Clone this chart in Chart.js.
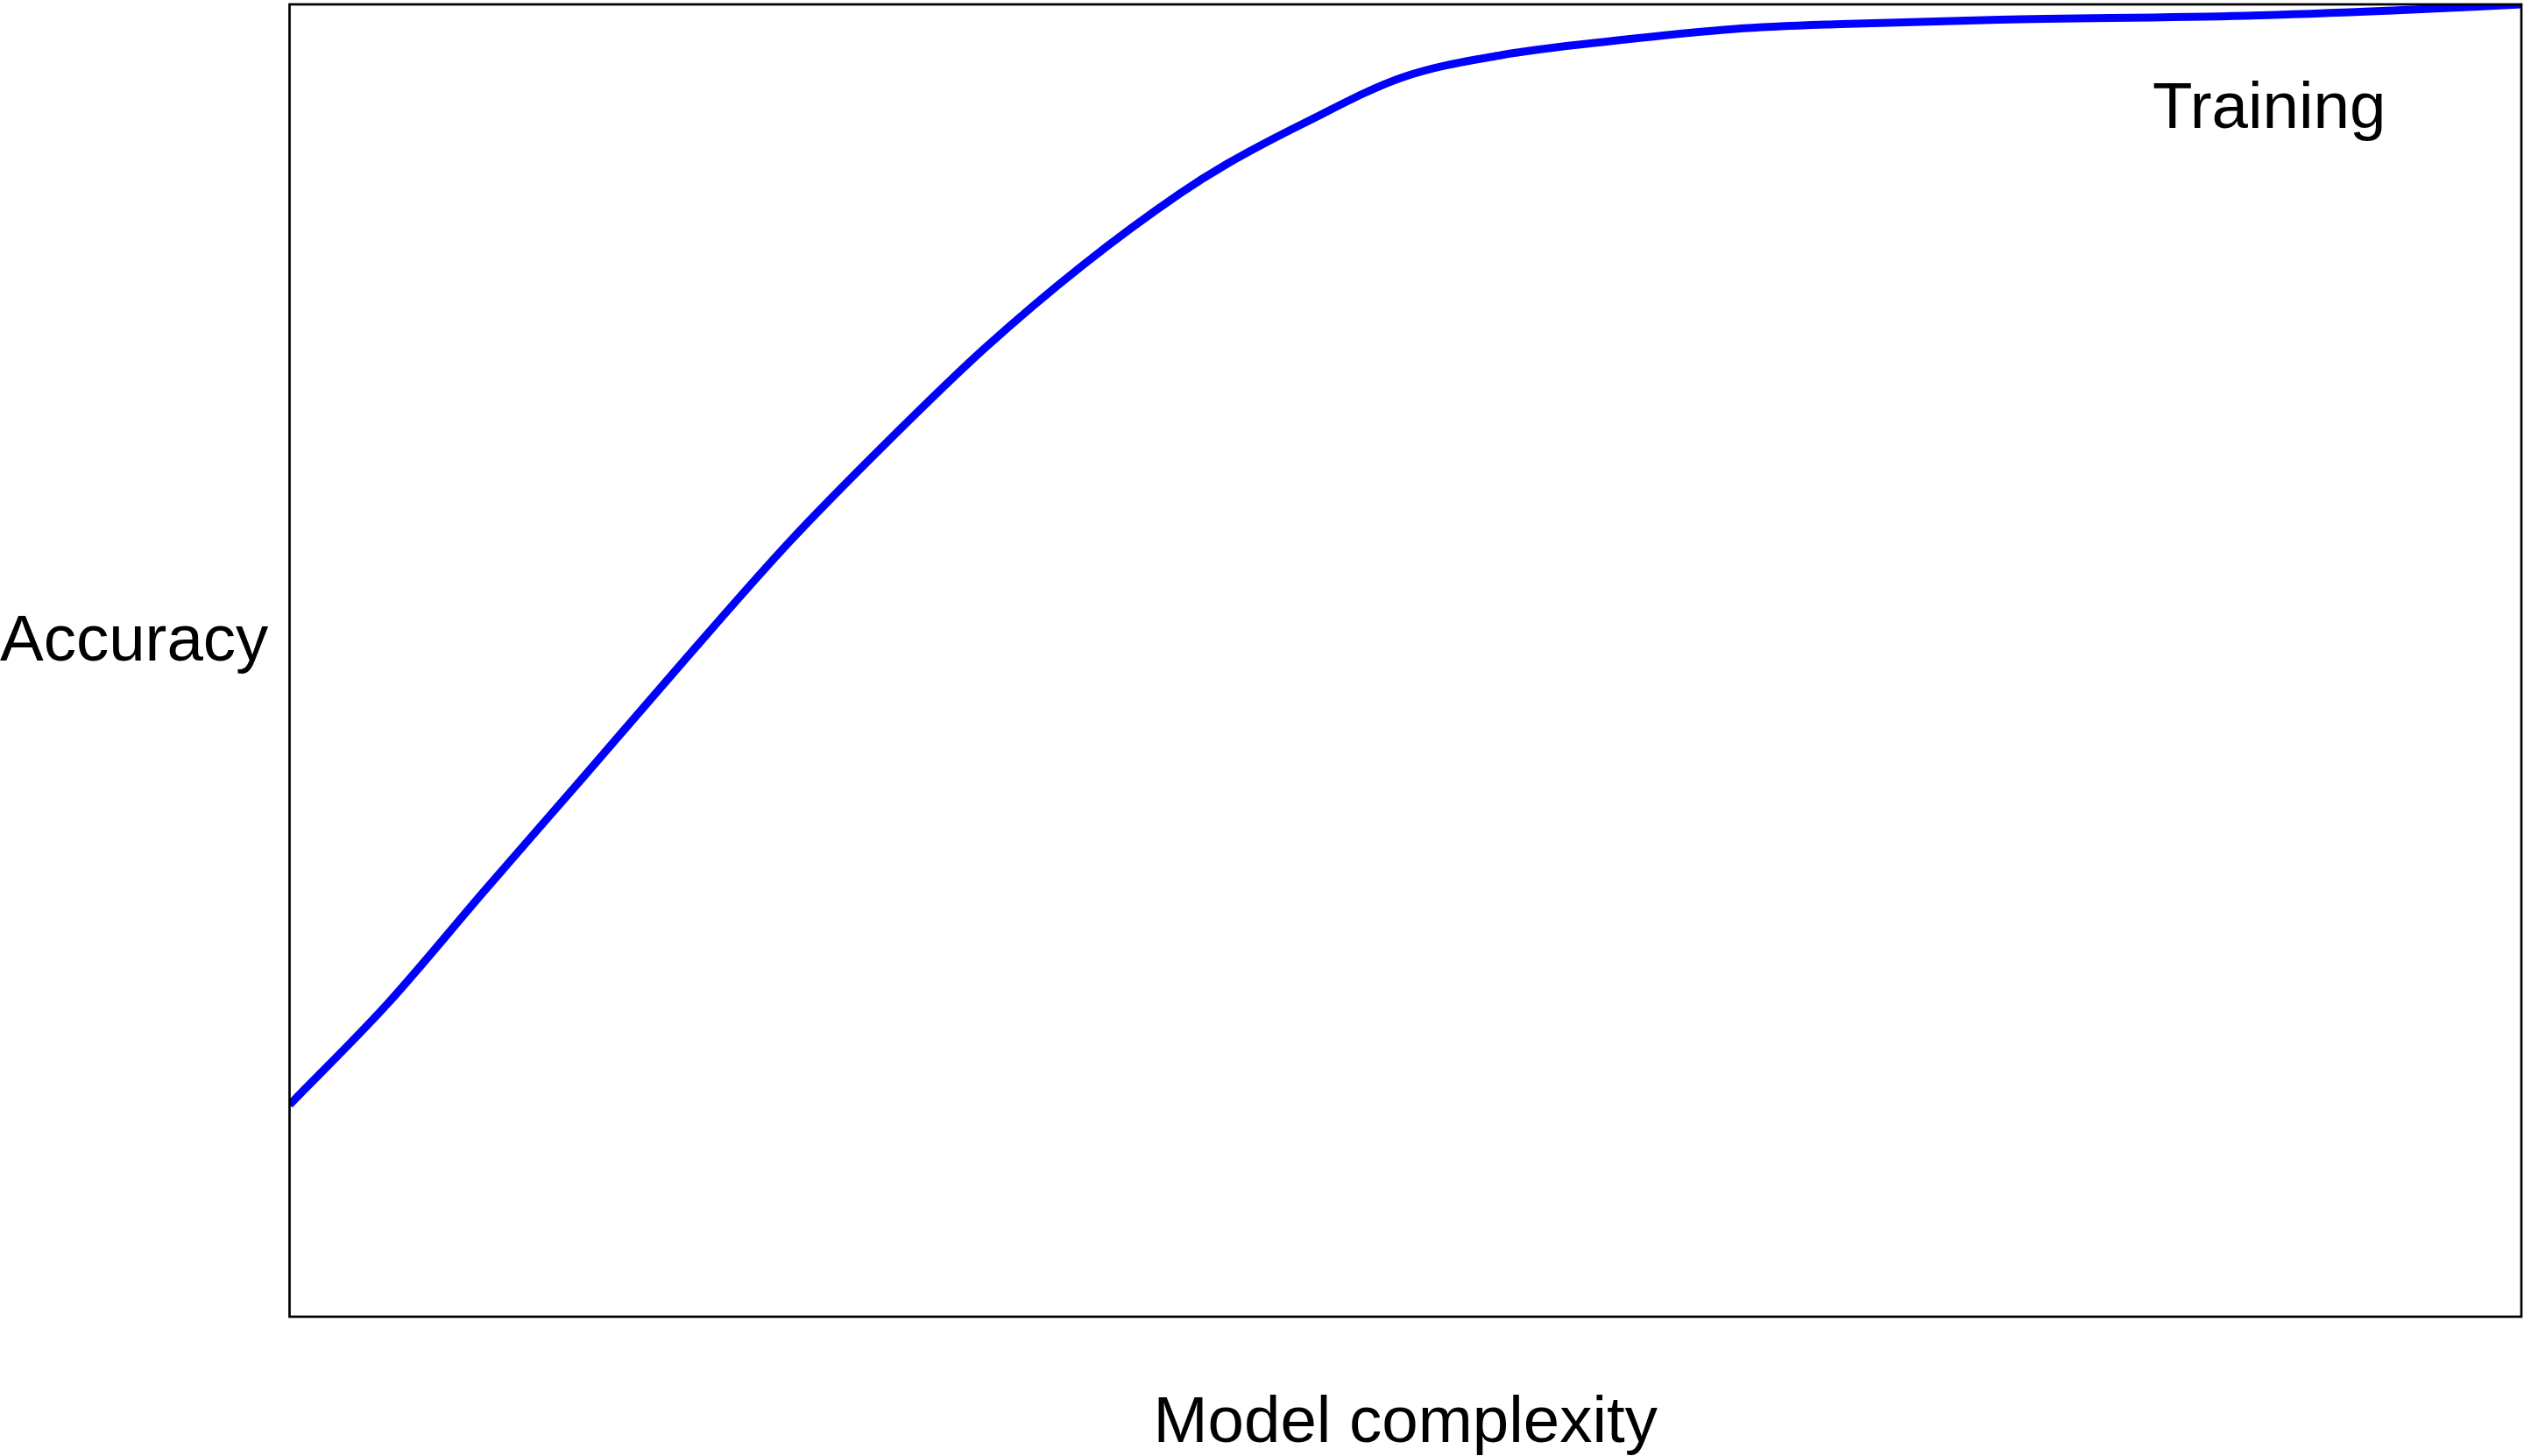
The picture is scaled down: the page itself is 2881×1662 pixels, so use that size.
<!DOCTYPE html>
<html>
<head>
<meta charset="utf-8">
<script src="https://cdn.jsdelivr.net/npm/chart.js@4"></script>
<style>
    html, body { margin: 0; padding: 0; background: #ffffff; }
    #wrap { width: 2881px; height: 1662px; position: relative; }
</style>
</head>
<body>
<div id="wrap"><canvas id="lineChart"></canvas></div>
<script>
    "use strict";

    // model complexity (0-100) and training accuracy (0-100)
    const complexity = [0, 4.38, 8.76, 13.15, 17.51, 22.38, 26.76, 31.13, 35.53, 39.89, 42.01, 45.5, 49.9, 54.28, 59.52, 64.78, 69.49, 76.6, 87.63, 94.23, 100];
    const training = [16.15, 23.83, 32.51, 41.09, 49.67, 59.01, 66.62, 73.77, 80.11, 85.58, 87.85, 90.99, 94.46, 96.13, 97.26, 98.13, 98.5, 98.83, 99.13, 99.53, 100];

    const xTitle = "Model complexity";
    const yTitle = "Accuracy";
    const seriesLabel = "Training";

    const font = '74.5px "Liberation Sans", Arial, sans-serif';

    const frameAndText = {
        id: "frameAndText",
        afterDraw(chart) {
            const ctx = chart.ctx;
            const area = chart.chartArea;
            ctx.save();
            ctx.strokeStyle = "#000000";
            ctx.lineWidth = 2.7;
            ctx.strokeRect(area.left, area.top, area.right - area.left, area.bottom - area.top);

            ctx.fillStyle = "#000000";
            ctx.font = font;
            ctx.textBaseline = "alphabetic";
            ctx.textAlign = "left";
            ctx.fillText(yTitle, 0, 754);
            ctx.fillText(seriesLabel, 2457, 146);
            ctx.textAlign = "center";
            ctx.fillText(xTitle, (area.left + area.right) / 2, 1646);
            ctx.restore();
        }
    };

    new Chart(document.getElementById("lineChart").getContext("2d"), {
        type: "line",
        data: {
            datasets: [{
                label: seriesLabel,
                data: complexity.map((x, i) => ({ x, y: training[i] })),
                borderColor: "#0000ff",
                borderWidth: 9,
                pointRadius: 0,
                fill: false,
                cubicInterpolationMode: "monotone"
            }]
        },
        options: {
            responsive: true,
            maintainAspectRatio: false,
            animation: false,
            layout: { padding: { left: 330.5, top: 5, right: 3, bottom: 159 } },
            plugins: { legend: { display: false }, tooltip: { enabled: false } },
            scales: {
                x: { type: "linear", min: 0, max: 100, display: false },
                y: { min: 0, max: 100, display: false }
            }
        },
        plugins: [frameAndText]
    });
</script>
</body>
</html>
